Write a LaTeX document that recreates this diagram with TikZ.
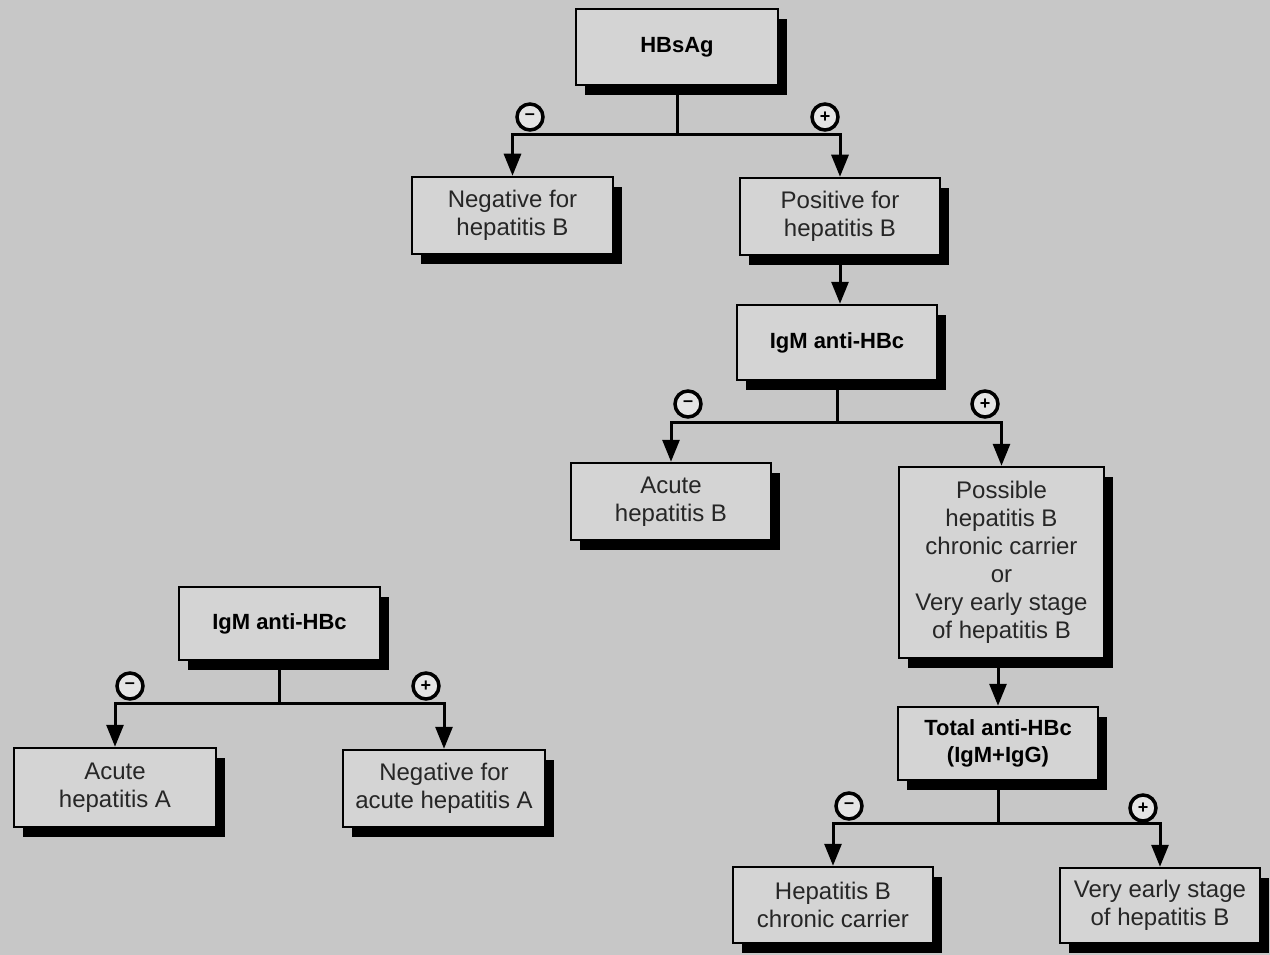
\documentclass[tikz,border=0pt]{standalone}
\usepackage{fontspec}
\setmainfont{Liberation Sans}
\usetikzlibrary{arrows.meta,shadows}
\definecolor{bg}{gray}{0.78}
\definecolor{boxfill}{gray}{0.83}
\begin{document}
\begin{tikzpicture}[x=1pt,y=-1pt,
  box/.style={draw=black, line width=2.5pt, fill=boxfill, align=center, inner sep=2pt,
    drop shadow={shadow xshift=9pt, shadow yshift=-10pt, fill=black, opacity=1},
    text=black!85, font=\fontsize{24}{28}\selectfont},
  test/.style={box, text=black, font=\fontsize{22}{27}\selectfont\bfseries},
  conn/.style={line width=3pt},
  arr/.style={conn, -{Triangle[length=22pt,width=17pt]}},
  sign/.style={circle, draw, line width=3.5pt, fill=gray!20, minimum size=26pt, inner sep=0pt,
    font=\fontsize{18}{18}\selectfont\bfseries}]
\fill[bg] (0,0) rectangle (1270,955);
\useasboundingbox (0,0) rectangle (1270,955);

% right tree
\node[test, minimum width=202pt, minimum height=76pt] (hbsag) at (677,47) {HBsAg};
\node[box, minimum width=201pt, minimum height=77pt] (neg) at (512.5,215.5) {Negative for\\hepatitis B};
\node[box, minimum width=200pt, minimum height=77pt] (pos) at (840,216.5) {Positive for\\hepatitis B};
\node[test, minimum width=200pt, minimum height=75pt] (igm1) at (837,342.5) {IgM anti-HBc};
\node[box, minimum width=200pt, minimum height=77pt] (acuteB) at (671,501.5) {Acute\\hepatitis B};
\node[box, minimum width=205pt, minimum height=191pt] (possible) at (1001.5,562.5) {Possible\\hepatitis B\\chronic carrier\\or\\Very early stage\\of hepatitis B};
\node[test, minimum width=200pt, minimum height=73pt] (total) at (998,743.5) {Total anti-HBc\\(IgM+IgG)};
\node[box, minimum width=200pt, minimum height=76pt] (carrier) at (833,905) {Hepatitis B\\chronic carrier};
\node[box, minimum width=200pt, minimum height=75pt] (early) at (1160,905.5) {Very early stage\\of hepatitis B};

% left tree
\node[test, minimum width=201pt, minimum height=73pt] (igm2) at (279.5,623.5) {IgM anti-HBc};
\node[box, minimum width=202pt, minimum height=79pt] (acuteA) at (115,787.5) {Acute\\hepatitis A};
\node[box, minimum width=202pt, minimum height=77pt] (negA) at (444,788.5) {Negative for\\acute hepatitis A};

% junctions
\coordinate (j1) at (677,135);
\coordinate (j2) at (837,422);
\coordinate (j3) at (998,823);
\coordinate (j4) at (279.5,703);

\draw[conn] (hbsag) -- (j1);
\draw[arr] (j1) -| (neg);
\draw[arr] (j1) -| (pos);
\draw[arr] (pos.south) -- (pos.south |- igm1.north);
\draw[conn] (igm1) -- (j2);
\draw[arr] (j2) -| (acuteB);
\draw[arr] (j2) -| (possible);
\draw[arr] (possible.south -| total.north) -- (total.north);
\draw[conn] (total) -- (j3);
\draw[arr] (j3) -| (carrier);
\draw[arr] (j3) -| (early);
\draw[conn] (igm2) -- (j4);
\draw[arr] (j4) -| (acuteA);
\draw[arr] (j4) -| (negA);

% signs
\node[sign] (s1) at (530,117) {–};
\node[sign] (s2) at (825,117) {+};
\node[sign] (s3) at (688,404) {–};
\node[sign] (s4) at (985,404) {+};
\node[sign] (s5) at (849,806) {–};
\node[sign] (s6) at (1143,808) {+};
\node[sign] (s7) at (130,686) {–};
\node[sign] (s8) at (426,686) {+};
\end{tikzpicture}
\end{document}
